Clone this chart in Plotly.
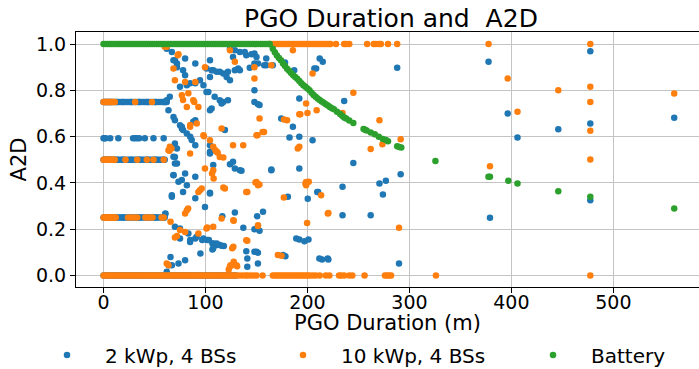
import plotly.graph_objects as go

# ---------------- data ----------------
# dense plateau durations (minutes)
PLATEAU_X_SHORT = [0, 1, 2, 3, 4, 5, 6, 7, 8, 10, 12, 13, 14, 16, 18, 19, 20, 22, 24, 26, 27, 28,
                   30, 32, 34, 35, 36, 38, 40, 42, 43, 44, 46, 48, 50, 51, 52, 54, 56, 58, 59, 60]
PLATEAU_X_LONG = [0, 2, 4, 6, 8, 10, 12, 14, 16, 18, 20, 22, 24, 26, 28, 30, 32, 34, 36, 38, 40,
                  42, 44, 46, 48, 50, 52, 54, 56, 58, 60, 62, 64, 66, 68, 70, 72, 74, 76, 78, 80,
                  82, 84, 86, 88, 90, 92, 94, 96, 98, 100, 102, 104, 106, 108, 110, 112, 114, 116,
                  118, 120, 122, 124, 126, 128, 130]

# --- 2 kWp, 4 BSs (blue)
blue_075_x = PLATEAU_X_SHORT + [61, 62]
blue_059_x = [0, 1, 2, 6.5, 14.5, 29, 31, 33, 35, 40.5, 49, 59]
blue_050_x = PLATEAU_X_SHORT
blue_025_x = PLATEAU_X_SHORT
blue_000_x = PLATEAU_X_LONG
blue_pts_x = [62, 67, 70, 72, 80, 90, 78, 80, 101, 106, 94.6, 90, 85, 81.7, 75, 102.8, 65, 62, 63.7,
              68.6, 70, 75, 76.8, 78, 88, 90, 104.4, 106, 85, 86.5, 90, 104.4, 70, 68.6, 72, 70, 107.6,
              104.4, 98, 72, 68.6, 81.7, 76.8, 104.4, 72, 68.6, 76.8,
              68.6, 70, 68.6, 80, 73.5, 81.7, 90, 104.4, 107.6, 67, 78, 90, 99.5, 104.4, 60.7, 70, 75,
              75, 85, 90, 96.8, 101.6, 106.8, 95, 65.7, 64, 73.5, 80,
              124, 128.8, 133.7, 140, 148, 150, 157.6, 166, 148, 127, 128.8, 132, 122, 124, 120.7, 114,
              107.6, 138.5, 145, 159.6, 159.6, 151.5, 143.4, 133.7, 111, 117.4, 104.4, 101, 109, 114,
              117.4, 122, 115.8, 148, 148, 151.5, 153, 119, 127, 133.7, 164.6,
              124, 128.8, 135.3, 164.6, 104.4, 116.5, 128.8, 150.6, 156.4, 137.1, 148, 153, 103.3, 108,
              111.5, 118, 106.8, 148, 151.4, 141, 151.4, 141, 178.4, 60.5, 67, 83.2, 84.9, 91.4, 98,
              111, 114, 107.6, 115.8, 140, 150, 67, 62,
              174.3, 185.7, 192, 192, 192, 205, 206.8, 212, 215, 187, 178, 182.4, 208.5, 236, 245,
              291.4, 270.6, 276.9, 274, 234.4, 209.6, 200.3, 262, 192, 197, 201, 214.3, 220.5, 289.8,
              288, 180.8, 210.5, 234.4, 211.7, 219.8, 189, 176,
              377.6, 477.4, 396.4, 406, 446, 477.4, 559.7, 379, 477.4]
blue_pts_y = [0.98, 0.966, 0.93, 0.916, 0.937, 0.916, 0.887, 0.865, 0.894, 0.887, 0.844, 0.83, 0.83,
              0.822, 0.815, 0.793, 0.772, 0.757, 0.714, 0.685, 0.671, 0.649, 0.635, 0.628, 0.664,
              0.671, 0.714, 0.721, 0.599, 0.585, 0.563, 0.563, 0.57, 0.556, 0.549, 0.512, 0.541,
              0.93, 0.822, 0.90, 0.93, 0.613, 0.642, 0.534, 0.484, 0.433, 0.412,
              0.513, 0.484, 0.434, 0.441, 0.405, 0.39, 0.426, 0.527, 0.477, 0.347, 0.361, 0.333,
              0.296, 0.354, 0.268, 0.21, 0.203, 0.16, 0.153, 0.16, 0.153, 0.153, 0.138, 0.095, 0.08,
              0.044, 0.052, 0.066,
              0.98, 0.973, 0.966, 0.952, 0.959, 0.944, 0.908, 0.908, 0.916, 0.944, 0.887, 0.894,
              0.88, 0.844, 0.858, 0.88, 0.887, 0.966, 0.956, 0.937, 0.908, 0.916, 0.897, 0.887,
              0.88, 0.873, 0.858, 0.793, 0.772, 0.757, 0.75, 0.757, 0.743, 0.80, 0.75, 0.74, 0.736,
              0.628, 0.491, 0.455, 0.455,
              0.481, 0.462, 0.452, 0.458, 0.357, 0.256, 0.272, 0.256, 0.275, 0.206, 0.2, 0.193,
              0.153, 0.138, 0.131, 0.127, 0.112, 0.102, 0.098, 0.073, 0.052, 0.037, 0.083, 0.265,
              0.34, 0.181, 0.145, 0.167, 0.16, 0.138, 0.131, 0.117, 0.128, 0.105, 0.102, 0.044, 0.016,
              0.678, 0.642, 0.765, 0.599, 0.462, 0.584, 0.894, 0.937, 0.923, 0.887, 0.92, 0.596,
              0.894, 0.754, 0.486, 0.437, 0.397, 0.409, 0.35, 0.383, 0.361, 0.331, 0.26, 0.155,
              0.148, 0.155, 0.069, 0.069, 0.052, 0.898, 0.34, 0.361, 0.26, 0.073, 0.073, 0.16, 0.088,
              0.923, 0.969, 0.70, 0.596, 0.632, 0.657, 0.681, 0.249, 0.325]

# --- 10 kWp, 4 BSs (orange)
orange_075_x = [0, 1, 2, 3, 4, 5, 6, 7, 8, 9, 10, 11, 31, 47.5]
orange_050_x = [0, 1, 2, 3, 4, 5, 6, 7, 8, 9, 10, 11, 21.5, 33, 42.5, 49, 59]
orange_025_x = [0, 1, 2, 3, 4, 5, 6, 7, 8, 9, 10, 11, 12, 24, 27, 30, 33, 41, 43, 45, 48, 57, 59]
orange_000_x = PLATEAU_X_LONG + [133, 136, 139, 141, 144, 147, 150, 156, 166, 168, 170, 172, 174,
                                 176, 178, 180, 182, 184, 186, 188, 190, 192, 194, 196, 198, 200,
                                 202, 205, 208, 212, 218, 221.5, 231, 233, 236, 241, 244, 256, 276,
                                 278, 280, 282, 326, 477.4]
orange_100_x = [163, 165, 167, 169, 171, 173, 175, 177, 179, 181, 183, 185, 187, 189, 191, 193, 195,
                197, 199, 201, 203, 205, 207, 209, 211, 213, 215, 217, 219, 221, 222.6, 228, 236, 238,
                241, 258.5, 265, 267, 270, 272, 279, 288, 377.6, 477.4]
orange_pts_x = [62, 72.8, 68.6, 70, 80, 90, 76.8, 81.7, 88, 93, 84.9, 91.4, 98, 84.9, 99.5, 104.4,
                107.6, 111, 114, 65, 63.7, 99.5, 78, 83.2, 89, 98.5, 66.6, 64.7, 85, 73.5, 60,
                94.6, 93, 81.7, 83, 80, 65.7, 75, 80, 93, 70, 72, 62, 63.7, 107.6,
                124, 128.8, 148, 164.6, 148, 115.8, 127, 150, 153, 156, 150, 119, 140, 151.5, 140,
                127.3, 115.8, 127.3, 151.5, 117.5, 112, 141, 149, 152.9, 127.7, 151.4, 101.7, 141,
                126.2, 127.7, 124.5, 122.8, 131, 109.8, 107.6, 106.4, 108, 117.5, 137, 96.3, 101,
                123.9, 125.5, 130.4, 157.4, 151,
                185.7, 205, 177, 180, 193, 200, 190.5, 192, 198.7, 209, 198.7, 176.8, 198, 201.3,
                174.5, 171, 199.6, 213.4, 220, 198.7, 245, 270.6, 234.4, 291.4, 273.5, 262, 192,
                220.5, 289.8,
                396.4, 406, 446, 477.4, 477.4, 477.4, 477.4, 379, 559.7]
orange_pts_y = [0.988, 0.952, 0.894, 0.844, 0.836, 0.836, 0.779, 0.728, 0.757, 0.728, 0.642, 0.657,
                0.606, 0.527, 0.462, 0.584, 0.556, 0.534, 0.512, 0.556, 0.541, 0.90, 0.758, 0.787,
                0.75, 0.602, 0.549, 0.539, 0.65, 0.956, 0.988,
                0.368, 0.361, 0.282, 0.289, 0.268, 0.232, 0.196, 0.188, 0.181, 0.164, 0.17, 0.052,
                0.044, 0.21,
                0.973, 0.923, 0.90, 0.908, 0.851, 0.635, 0.563, 0.606, 0.678, 0.62, 0.404, 0.376,
                0.361, 0.39, 0.152, 0.239, 0.246, 0.124, 0.217, 0.51, 0.53, 0.361, 0.402, 0.393,
                0.236, 0.214, 0.207, 0.15, 0.117, 0.059, 0.044, 0.026, 0.04, 0.541, 0.455, 0.441,
                0.419, 0.38, 0.563, 0.376, 0.203, 0.037, 0.044, 0.044, 0.62, 0.606,
                0.973, 0.873, 0.674, 0.671, 0.697, 0.702, 0.549, 0.556, 0.743, 0.714, 0.404, 0.337,
                0.397, 0.405, 0.085, 0.088, 0.227, 0.347, 0.268, 0.39, 0.79, 0.671, 0.702, 0.589,
                0.567, 0.546, 0.697, 0.27, 0.206,
                0.851, 0.707, 0.80, 0.815, 0.75, 0.625, 0.501, 0.472, 0.786]

# --- Battery (green)
green_100_x = [0, 2, 4, 6, 8, 10, 12, 14, 16, 18, 20, 22, 24, 26, 28, 30, 32, 34, 36, 38, 40, 42,
               44, 46, 48, 50, 52, 54, 56, 58, 60, 62, 64, 66, 68, 70, 72, 74, 76, 78, 80, 82, 84,
               86, 88, 90, 92, 94, 96, 98, 100, 102, 104, 106, 108, 110, 112, 114, 116, 118, 120,
               122, 124, 126, 128, 130, 132, 134, 136, 138, 140, 142, 144, 146, 148, 150, 152, 154,
               156, 158, 160, 162, 163]
green_pts_x = [166, 168, 170, 172, 174, 176, 178, 180, 182, 184, 186, 188, 190, 192, 194, 196, 198,
               200, 202, 204, 206, 208, 210, 212, 214, 216, 218, 220, 222, 224, 226, 229, 232, 234,
               236, 238, 241, 245, 255, 256.5, 258, 262, 266, 270, 274, 277, 279, 288, 290, 292,
               325.5, 377.5, 379, 397, 406, 446, 477.4, 559.7]
green_pts_y = [0.98, 0.965, 0.95, 0.94, 0.93, 0.916, 0.905, 0.893, 0.885, 0.875, 0.865, 0.857, 0.85,
               0.84, 0.83, 0.822, 0.815, 0.808, 0.80, 0.79, 0.78, 0.772, 0.765, 0.758, 0.752, 0.746,
               0.74, 0.734, 0.728, 0.722, 0.718, 0.707, 0.698, 0.69, 0.683, 0.678, 0.67, 0.659,
               0.633, 0.63, 0.626, 0.618, 0.61, 0.599, 0.59, 0.585, 0.58, 0.558, 0.555, 0.553,
               0.494, 0.426, 0.426, 0.409, 0.397, 0.364, 0.34, 0.289]

SERIES_NAMES = ["2 kWp, 4 BSs", "10 kWp, 4 BSs", "Battery"]
COLORS = ["#1f77b4", "#ff7f0e", "#2ca02c"]
X_TICKS = [0, 100, 200, 300, 400, 500]
Y_TICKS = [0.0, 0.2, 0.4, 0.6, 0.8, 1.0]

# ---------------- assemble series ----------------
def plateau(xs, level):
    return list(xs), [level] * len(xs)

def combine(parts):
    X, Y = [], []
    for xs, ys in parts:
        X += list(xs)
        Y += list(ys)
    return X, Y

blue_x, blue_y = combine([plateau(blue_000_x, 0.0), plateau(blue_025_x, 0.25),
                          plateau(blue_050_x, 0.5), plateau(blue_059_x, 0.593),
                          plateau(blue_075_x, 0.75), (blue_pts_x, blue_pts_y)])
orange_x, orange_y = combine([plateau(orange_000_x, 0.0), plateau(orange_025_x, 0.25),
                              plateau(orange_050_x, 0.5), plateau(orange_075_x, 0.75),
                              plateau(orange_100_x, 1.0), (orange_pts_x, orange_pts_y)])
green_x, green_y = combine([plateau(green_100_x, 1.0), (green_pts_x, green_pts_y)])

FONT = "DejaVu Sans"
fig = go.Figure()
for (xs, ys), name, color, lg in zip([(blue_x, blue_y), (orange_x, orange_y), (green_x, green_y)],
                                     SERIES_NAMES, COLORS, ["legend", "legend2", "legend3"]):
    fig.add_trace(go.Scatter(x=xs, y=ys, mode="markers", name=name, legend=lg,
                             marker=dict(color=color, size=6.5, line=dict(width=0))))

def legend_at(xpx):
    return dict(x=xpx / 699, y=1 - 355 / 369, xref="container", yref="container",
                xanchor="left", yanchor="middle", orientation="h", itemwidth=66,
                bgcolor="rgba(0,0,0,0)", font=dict(family=FONT, size=20, color="black"))

fig.update_layout(
    width=699, height=369,
    margin=dict(l=76, r=0, t=32, b=82, autoexpand=False),
    paper_bgcolor="white", plot_bgcolor="white",
    font=dict(family=FONT, size=19, color="black"),
    title=dict(text="PGO Duration and \u00a0A2D", x=391 / 699, xref="container", xanchor="center",
               y=1 - 18 / 369, yref="container", yanchor="middle",
               font=dict(family=FONT, size=25, color="black")),
    legend=legend_at(29), legend2=legend_at(265), legend3=legend_at(515),
    showlegend=True,
)
fig.update_xaxes(range=[-27, 584], tickvals=X_TICKS, ticks="outside", ticklen=5, tickcolor="black",
                 showline=True, linecolor="black", linewidth=1, mirror=True, automargin=False,
                 showgrid=True, gridcolor="#c4c4c4", gridwidth=1, zeroline=False,
                 ticklabelstandoff=-7,
                 tickfont=dict(family=FONT, size=19, color="black"),
                 title=dict(text="PGO Duration (m)", standoff=12,
                            font=dict(family=FONT, size=21, color="black")))
fig.update_yaxes(range=[-0.05, 1.052], tickvals=Y_TICKS, tickformat=".1f", ticks="outside",
                 ticklen=5, tickcolor="black", showline=True, linecolor="black", linewidth=1,
                 mirror=False, showgrid=True, gridcolor="#c4c4c4", gridwidth=1, zeroline=False,
                 automargin=False,
                 tickfont=dict(family=FONT, size=19, color="black"),
                 title=dict(text="A2D", standoff=3, font=dict(family=FONT, size=21, color="black")))

fig.write_html("out.html")
